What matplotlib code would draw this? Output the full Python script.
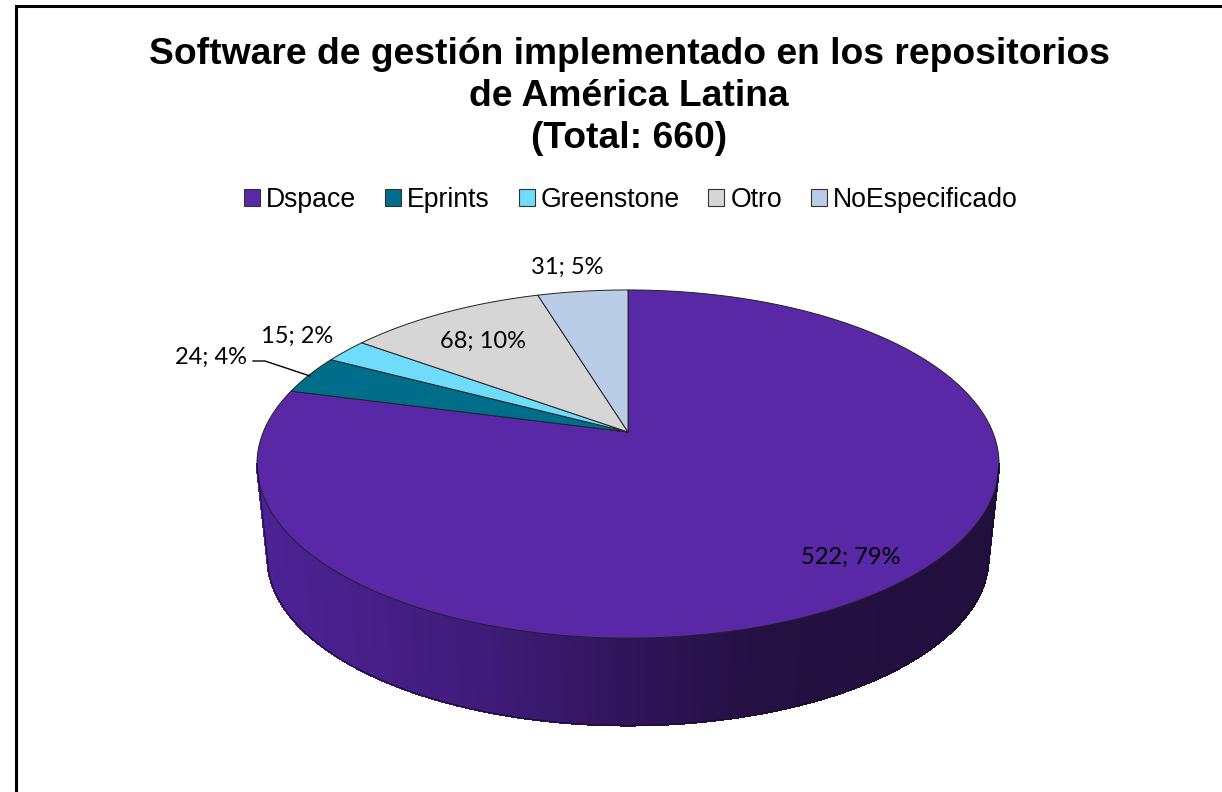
import numpy as np
from matplotlib import pyplot as plt
from matplotlib.collections import PolyCollection
from matplotlib.colors import LinearSegmentedColormap
from matplotlib.patches import Polygon, Rectangle

title = "Software de gestión implementado en los repositorios\nde América Latina\n(Total: 660)"
names = ["Dspace", "Eprints", "Greenstone", "Otro", "NoEspecificado"]
counts = [522, 24, 15, 68, 31]
colors = ["#5928a7", "#006e8a", "#6edcfa", "#d6d6d6", "#b9cde6"]

# perspective of the pie, in pixels of the picture
CX = 628
K = 0.184
TOP_A, TOP_B, TOP_C = -88.7, 432, 364.7
BOT_A, BOT_B, BOT_C = -65, 527, 354.4


def project(t, a, b, c):
    # t: clockwise angle from 12 o'clock
    u, v = np.sin(t), np.cos(t)
    w = 1 + K * v
    return np.column_stack([CX + c * u / w, (b + a * v) / w])


def top(t):
    return project(t, TOP_A, TOP_B, TOP_C)


def bottom(t):
    return project(t, BOT_A, BOT_B, BOT_C)


if __name__ == "__main__":
    plt.rcParams["font.family"] = "Liberation Sans"
    fig = plt.figure(figsize=(12.22, 7.92), dpi=100)
    ax = fig.add_axes([0, 0, 1, 1])
    ax.set_xlim(0, 1222)
    ax.set_ylim(792, 0)
    ax.axis("off")

    # chart frame, runs off the picture at the right and the bottom
    ax.plot([15.5, 15.5, 1222], [792, 6, 6], color="black", lw=2.2, solid_joinstyle="miter")

    ax.text(629, 96.5, title, ha="center", va="center", fontsize=26.8, fontweight="bold",
            linespacing=1.25, color="black")

    # side wall, dark to the right
    shade = LinearSegmentedColormap.from_list(
        "wall", [(0, "#4c2295"), (0.3, "#3f1c7a"), (0.5, "#30155a"), (0.68, "#241042"), (1, "#210f3e")])
    t_right = np.pi - np.arccos(K)
    t_left = np.pi + np.arccos(K)
    ts = np.linspace(t_right, t_left, 361)
    upper, lower = top(ts), bottom(ts)
    quads = [[upper[i], upper[i + 1], lower[i + 1], lower[i]] for i in range(len(ts) - 1)]
    pos = (upper[:-1, 0] - 257) / 742
    wall = shade(pos)
    ax.add_collection(PolyCollection(quads, facecolors=wall, edgecolors=wall, linewidths=0.8,
                                     antialiased=False))
    ax.plot(lower[:, 0], lower[:, 1], color="#1a0c30", lw=0.8)
    ax.plot([upper[0, 0], lower[0, 0]], [upper[0, 1], lower[0, 1]], color="#1a0c30", lw=0.6)
    ax.plot([upper[-1, 0], lower[-1, 0]], [upper[-1, 1], lower[-1, 1]], color="#1a0c30", lw=0.6)

    # top face
    total = sum(counts)
    start = 0.0
    for count, color in zip(counts, colors):
        stop = start + 2 * np.pi * count / total
        arc = top(np.linspace(start, stop, max(int(count * 2), 20)))
        pts = np.vstack([[CX, TOP_B], arc])
        ax.add_patch(Polygon(pts, closed=True, facecolor=color, edgecolor="#222222", lw=0.7,
                             joinstyle="round"))
        start = stop

    # data labels
    label_pos = [(851, 557.5), (211, 357.5), (297, 336.5), (483, 341.5), (567, 267.5)]
    for count, (x, y) in zip(counts, label_pos):
        ax.text(x, y, f"{count}; {round(100 * count / total)}%", ha="center", va="center",
                fontsize=17, family="Lato", color="black")
    ax.plot([253, 265, 310], [361, 361, 376], color="black", lw=1)

    handles = [Rectangle((0, 0), 1, 1, facecolor=c, edgecolor="#333333", lw=0.8) for c in colors]
    ax.legend(handles, names, ncol=5, frameon=False, loc="center", bbox_to_anchor=(631 / 1222, 1 - 200 / 792),
              fontsize=19.2, handlelength=0.6, handleheight=0.6, handletextpad=0.22, columnspacing=1.08,
              borderpad=0, labelcolor="black")

    plt.savefig("out.png", dpi=100)
    plt.close()
